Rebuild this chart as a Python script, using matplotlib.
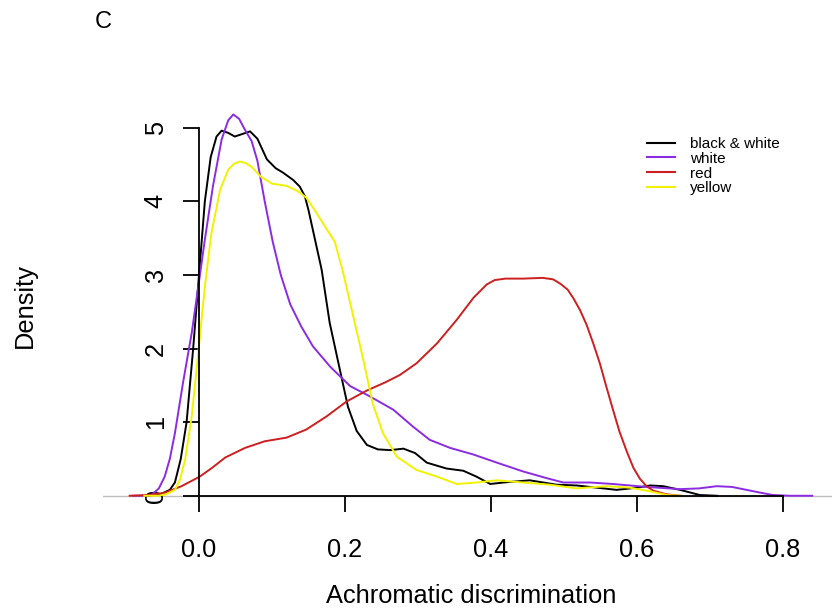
import matplotlib
matplotlib.use("Agg")
import matplotlib.pyplot as plt

plt.rcParams['font.family'] = ['Liberation Sans', 'DejaVu Sans']

# ---- data ----
bw_x = [-0.07, -0.053, -0.04, -0.033, -0.025, -0.017, -0.008, 0.0, 0.008, 0.016, 0.024, 0.031,
        0.040, 0.049, 0.058, 0.070, 0.080, 0.093, 0.105, 0.115, 0.129, 0.138, 0.145, 0.150,
        0.156, 0.168, 0.179, 0.193, 0.204, 0.216, 0.230, 0.245, 0.262, 0.280, 0.296, 0.312,
        0.339, 0.362, 0.380, 0.399, 0.417, 0.453, 0.490, 0.517, 0.545, 0.572, 0.600, 0.618,
        0.636, 0.659, 0.686, 0.71]
bw_y = [0.0, 0.02, 0.08, 0.18, 0.5, 1.0, 2.0, 3.0, 4.0, 4.6, 4.88, 4.96,
        4.93, 4.88, 4.91, 4.95, 4.85, 4.57, 4.45, 4.39, 4.29, 4.2, 4.07, 3.88,
        3.61, 3.07, 2.35, 1.71, 1.21, 0.88, 0.69, 0.63, 0.62, 0.64, 0.58, 0.45,
        0.37, 0.34, 0.26, 0.16, 0.18, 0.21, 0.15, 0.14, 0.11, 0.08, 0.11, 0.14,
        0.13, 0.08, 0.01, 0.0]

white_x = [-0.09, -0.075, -0.065, -0.055, -0.047, -0.040, -0.033, -0.022, -0.010, -0.001, 0.008,
           0.019, 0.031, 0.040, 0.047, 0.055, 0.063, 0.072, 0.080, 0.090, 0.101, 0.112, 0.125,
           0.140, 0.156, 0.180, 0.207, 0.234, 0.266, 0.293, 0.316, 0.344, 0.376, 0.408, 0.444,
           0.476, 0.499, 0.536, 0.567, 0.613, 0.659, 0.685, 0.709, 0.730, 0.750, 0.770, 0.786,
           0.81, 0.84]
white_y = [0.0, 0.0, 0.01, 0.1, 0.26, 0.5, 0.85, 1.53, 2.21, 2.84, 3.48,
           4.20, 4.84, 5.10, 5.18, 5.12, 4.97, 4.82, 4.55, 4.0, 3.45, 3.0, 2.6,
           2.3, 2.03, 1.75, 1.49, 1.35, 1.17, 0.94, 0.76, 0.65, 0.56, 0.45, 0.33,
           0.24, 0.18, 0.18, 0.16, 0.12, 0.09, 0.10, 0.13, 0.12, 0.08, 0.04, 0.01,
           0.0, 0.0]

red_x = [-0.095, -0.07, -0.047, -0.024, 0.001, 0.018, 0.036, 0.063, 0.090, 0.120, 0.147,
         0.175, 0.202, 0.230, 0.255, 0.275, 0.298, 0.326, 0.353, 0.376, 0.394, 0.405, 0.420,
         0.444, 0.471, 0.485, 0.495, 0.505, 0.513, 0.522, 0.531, 0.540, 0.549, 0.558, 0.567,
         0.576, 0.586, 0.595, 0.604, 0.613, 0.622, 0.64, 0.66]
red_y = [0.0, 0.01, 0.04, 0.13, 0.26, 0.38, 0.52, 0.65, 0.74, 0.79, 0.90,
         1.08, 1.28, 1.43, 1.54, 1.64, 1.80, 2.07, 2.39, 2.69, 2.87, 2.93, 2.95,
         2.95, 2.96, 2.94, 2.88, 2.80, 2.68, 2.52, 2.32, 2.07, 1.80, 1.48, 1.17,
         0.87, 0.60, 0.38, 0.23, 0.13, 0.07, 0.02, 0.0]

yel_x = [-0.075, -0.056, -0.045, -0.033, -0.026, -0.019, -0.010, -0.001, 0.008, 0.017, 0.029,
         0.040, 0.048, 0.056, 0.064, 0.072, 0.084, 0.100, 0.120, 0.135, 0.147, 0.161, 0.175,
         0.186, 0.197, 0.211, 0.225, 0.238, 0.252, 0.271, 0.298, 0.326, 0.353, 0.380, 0.408,
         0.444, 0.481, 0.517, 0.558, 0.590, 0.618, 0.641, 0.66]
yel_y = [0.0, 0.0, 0.02, 0.08, 0.22, 0.49, 1.08, 1.94, 2.84, 3.57, 4.16,
         4.43, 4.51, 4.54, 4.52, 4.47, 4.34, 4.24, 4.21, 4.14, 4.05, 3.84, 3.62,
         3.45, 3.05, 2.45, 1.85, 1.25, 0.85, 0.53, 0.35, 0.26, 0.16, 0.18, 0.21,
         0.18, 0.15, 0.10, 0.13, 0.11, 0.06, 0.01, 0.0]

series_labels = ['black & white', 'white', 'red', 'yellow']
series_colors = ['#000000', '#8B2BE2', '#CD1F1F', '#F2F200']
x_ticks = [0.0, 0.2, 0.4, 0.6, 0.8]
x_tick_labels = ['0.0', '0.2', '0.4', '0.6', '0.8']
y_ticks = [0, 1, 2, 3, 4, 5]

W, H = 832, 609
fig = plt.figure(figsize=(W / 100, H / 100), dpi=100)
L, R, T, B = 103, 840, 99, 511
ax = fig.add_axes([L / W, (H - B) / H, (R - L) / W, (B - T) / H])
ax.set_xlim(-0.1315, 0.878)
ax.set_ylim(-0.207, 5.39)

ax.axhline(0, color='#BEBEBE', lw=1.0, zorder=0)

for xs, ys, lab, col in zip([bw_x, white_x, red_x, yel_x], [bw_y, white_y, red_y, yel_y],
                            series_labels, series_colors):
    ax.plot(xs, ys, color=col, lw=1.4, label=lab, solid_joinstyle='round')

for s in ['top', 'right']:
    ax.spines[s].set_visible(False)
ax.spines['left'].set_position(('data', 0))
ax.spines['bottom'].set_position(('data', 0))
ax.spines['left'].set_bounds(0, 5)
ax.spines['bottom'].set_bounds(0, 0.8)
for s in ['left', 'bottom']:
    ax.spines[s].set_linewidth(1.3)

ax.set_xticks(x_ticks)
ax.set_xticklabels(x_tick_labels)
ax.set_yticks(y_ticks)
ax.set_yticklabels([str(v) for v in y_ticks], rotation=90, va='center')
ax.tick_params(axis='both', direction='out', length=11.5, width=1.3, labelsize=18.3)
ax.tick_params(axis='x', pad=19)
ax.tick_params(axis='y', pad=11)

fig.text(471 / W, 1 - 596 / H, 'Achromatic discrimination', ha='center', va='center', fontsize=18.3)
fig.text(25 / W, 1 - 305 / H, 'Density', ha='center', va='center', rotation=90, fontsize=18.3)
fig.text(103 / W, 1 - 22 / H, 'C', ha='center', va='center', fontsize=17)

leg = ax.legend(loc='upper left', bbox_to_anchor=(647 / W, 1 - 137 / H),
                bbox_transform=fig.transFigure, frameon=False, fontsize=11,
                handlelength=1.85, handletextpad=0.95, labelspacing=0.05,
                borderpad=0, borderaxespad=0)
for ln in leg.get_lines():
    ln.set_linewidth(1.5)

fig.savefig('out.png', dpi=100)
